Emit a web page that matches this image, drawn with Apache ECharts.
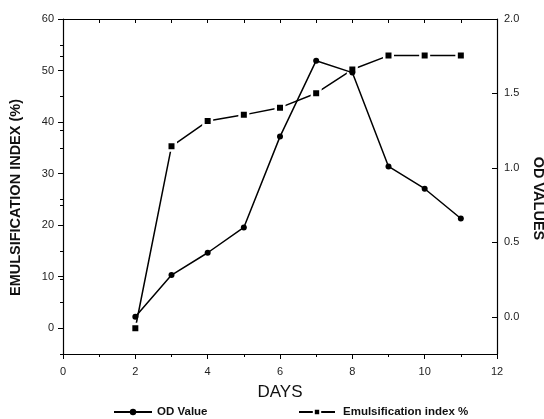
<!DOCTYPE html>
<html>
<head>
<meta charset="utf-8">
<script src="https://cdn.jsdelivr.net/npm/echarts@6/dist/echarts.min.js"></script>
<style>html,body{margin:0;padding:0;background:#fff}#c{width:544px;height:419px}</style>
</head>
<body>
<div id="c"></div>
<script>
const days = [2, 3, 4, 5, 6, 7, 8, 9, 10, 11];
const odValues = [0.0, 0.28, 0.43, 0.60, 1.21, 1.72, 1.64, 1.01, 0.86, 0.66];
const emulsificationIndex = [0, 35.3, 40.2, 41.4, 42.8, 45.6, 50.2, 52.9, 52.9, 52.9];
const leftMajorTicks = [0, 10, 20, 30, 40, 50, 60];
const leftMinorTicks = [-5, 5, 15, 25, 35, 45, 55];
const rightMajorTicks = [0, 0.5, 1.0, 1.5, 2.0];
const rightMinorTicks = [0.25, 0.75, 1.25, 1.75];

const font = 'Liberation Sans, Arial, sans-serif';
const ink = '#000';
const labelColor = '#222';

const chart = echarts.init(document.getElementById('c'), null, {renderer: 'canvas'});
chart.setOption({
  animation: false,
  backgroundColor: '#fff',
  grid: {left: 63, right: 47, top: 19, bottom: 65, containLabel: false, outerBoundsMode: 'none'},
  legend: [
    {data: ['OD Value'], left: 108, top: 401, itemWidth: 38, itemHeight: 8, itemGap: 6,
     textStyle: {fontFamily: font, fontSize: 11.5, fontWeight: 'bold', color: '#111', padding: [0, 0, 0, 0]}},
    {data: ['Emulsification index %'], left: 293, top: 401, itemWidth: 36, itemHeight: 8, itemGap: 6,
     textStyle: {fontFamily: font, fontSize: 11.5, fontWeight: 'bold', color: '#111', padding: [0, 0, 0, 3]}}
  ],
  xAxis: [
    {type: 'value', position: 'bottom', min: 0, max: 12, interval: 2,
     name: 'DAYS', nameLocation: 'middle', nameGap: 30,
     nameTextStyle: {fontFamily: font, fontSize: 17, color: '#111'},
     axisLine: {show: true, onZero: false, lineStyle: {color: ink, width: 1.2}},
     axisTick: {show: true, inside: false, length: 5, lineStyle: {color: ink, width: 1}},
     minorTick: {show: true, splitNumber: 2, length: 3, lineStyle: {color: ink, width: 1}},
     axisLabel: {fontFamily: font, fontSize: 11, color: labelColor, margin: 12},
     splitLine: {show: false}},
    {type: 'value', position: 'top', min: 0, max: 12, interval: 1,
     axisLine: {show: true, onZero: false, lineStyle: {color: ink, width: 1.2}},
     axisTick: {show: true, inside: true, length: 4, lineStyle: {color: ink, width: 1}},
     axisLabel: {show: false}, splitLine: {show: false}}
  ],
  yAxis: [
    {type: 'value', position: 'left', min: -5, max: 60,
     name: 'EMULSIFICATION INDEX (%)', nameLocation: 'middle', nameGap: 40,
     nameTextStyle: {fontFamily: font, fontSize: 14.5, fontWeight: 'bold', color: '#111', padding: [0, 22, 0, 0]},
     axisLine: {show: true, onZero: false, lineStyle: {color: ink, width: 1.2}},
     axisTick: {show: true, inside: false, length: 5, customValues: leftMajorTicks, lineStyle: {color: ink, width: 1}},
     axisLabel: {fontFamily: font, fontSize: 11, color: labelColor, margin: 9, customValues: leftMajorTicks},
     splitLine: {show: false}},
    {type: 'value', position: 'right', min: -0.25, max: 2.0,
     name: 'OD VALUES', nameLocation: 'middle', nameGap: 31, nameRotate: -90,
     nameTextStyle: {fontFamily: font, fontSize: 14.5, fontWeight: 'bold', color: '#111', padding: [0, 0, 0, 24]},
     axisLine: {show: true, onZero: false, lineStyle: {color: ink, width: 1.2}},
     axisTick: {show: true, inside: true, length: 5, customValues: rightMajorTicks, lineStyle: {color: ink, width: 1}},
     axisLabel: {fontFamily: font, fontSize: 11, color: labelColor, margin: 7, customValues: rightMajorTicks,
       formatter: v => v.toFixed(1)},
     splitLine: {show: false}},
    {type: 'value', position: 'left', min: -5, max: 60,
     axisLine: {show: false},
     axisTick: {show: true, inside: false, length: 3, customValues: leftMinorTicks, lineStyle: {color: ink, width: 1}},
     axisLabel: {show: false}, splitLine: {show: false}},
    {type: 'value', position: 'right', min: -0.25, max: 2.0,
     axisLine: {show: false},
     axisTick: {show: true, inside: true, length: 3, customValues: rightMinorTicks, lineStyle: {color: ink, width: 1}},
     axisLabel: {show: false}, splitLine: {show: false}}
  ],
  series: [
    {name: 'Emulsification index %', type: 'line', xAxisIndex: 0, yAxisIndex: 0,
     data: days.map((d, i) => [d, emulsificationIndex[i]]),
     symbol: 'rect', symbolSize: 8.5, showSymbol: true,
     lineStyle: {color: ink, width: 1.5},
     itemStyle: {color: ink, borderColor: '#fff', borderWidth: 2.5},
     z: 2},
    {name: 'OD Value', type: 'line', xAxisIndex: 0, yAxisIndex: 1,
     data: days.map((d, i) => [d, odValues[i]]),
     symbol: 'circle', symbolSize: 6, showSymbol: true,
     lineStyle: {color: ink, width: 1.5},
     itemStyle: {color: ink, borderWidth: 0},
     z: 3}
  ]
});
</script>
</body>
</html>
